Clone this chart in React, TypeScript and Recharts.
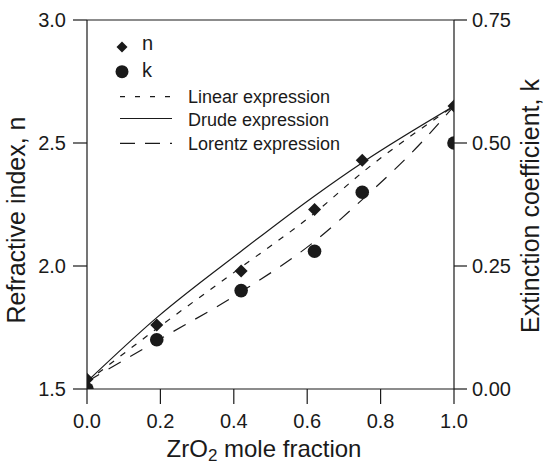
import React from "react";
import {
  ComposedChart,
  Line,
  Scatter,
  XAxis,
  YAxis,
  ReferenceLine,
  Label,
} from "recharts";

const xTicks = [0, 0.2, 0.4, 0.6, 0.8, 1.0];
const nTicks = [1.5, 2.0, 2.5, 3.0];
const kTicks = [0, 0.25, 0.5, 0.75];

const fractions = [0, 0.19, 0.42, 0.62, 0.75, 1.0];
const nValues = [1.54, 1.76, 1.98, 2.23, 2.43, 2.65];
const kValues = [0.0, 0.1, 0.2, 0.28, 0.4, 0.5];

const linearX = [0, 0.19, 0.42, 0.62, 0.75, 1.0];
const linearN = [1.53, 1.745, 1.995, 2.215, 2.38, 2.65];
const drudeX = [0, 0.19, 0.42, 0.62, 0.75, 1.0];
const drudeN = [1.53, 1.79, 2.06, 2.285, 2.42, 2.65];
const lorentzX = [0, 0.19, 0.42, 0.62, 0.75, 0.91, 1.0];
const lorentzN = [1.53, 1.695, 1.895, 2.1, 2.27, 2.5, 2.65];

const nData = fractions.map((x, i) => ({ x, n: nValues[i] }));
const kData = fractions.map((x, i) => ({ x, k: kValues[i] }));
const linearData = linearX.map((x, i) => ({ x, n: linearN[i] }));
const drudeData = drudeX.map((x, i) => ({ x, n: drudeN[i] }));
const lorentzData = lorentzX.map((x, i) => ({ x, n: lorentzN[i] }));

const FONT = "'Liberation Sans', Arial, Helvetica, sans-serif";
const INK = "#1a1a1a";

const Diamond = (props: any) => {
  const { cx, cy } = props;
  const r = 6.5;
  return (
    <path
      d={`M${cx},${cy - r}L${cx + r},${cy}L${cx},${cy + r}L${cx - r},${cy}Z`}
      fill={INK}
    />
  );
};

const Dot = (props: any) => {
  const { cx, cy } = props;
  return <circle cx={cx} cy={cy} r={6.8} fill={INK} />;
};

const LegendBox = () => (
  <svg
    width={260}
    height={140}
    style={{ position: "absolute", left: 100, top: 30, display: "block", pointerEvents: "none" }}
  >
    <g transform="translate(-100,-30)" fontFamily={FONT} fill={INK}>
      <path d="M122,41.5L127.5,47L122,52.5L116.5,47Z" fill={INK} />
      <text x={142} y={50} fontSize={20}>n</text>
      <circle cx={122} cy={71.7} r={6.5} fill={INK} />
      <text x={142} y={77} fontSize={20}>k</text>
      <line x1={120} y1={96.7} x2={172} y2={96.7} stroke={INK} strokeWidth={1.2} strokeDasharray="5 10" />
      <text x={188} y={103} fontSize={18}>Linear expression</text>
      <line x1={120} y1={118.5} x2={172} y2={118.5} stroke={INK} strokeWidth={1.2} />
      <text x={188} y={126} fontSize={18}>Drude expression</text>
      <line x1={120} y1={143.3} x2={172} y2={143.3} stroke={INK} strokeWidth={1.2} strokeDasharray="15 10" />
      <text x={188} y={149.5} fontSize={18}>Lorentz expression</text>
    </g>
  </svg>
);

const tickStyle = { fill: INK, fontSize: 20, fontFamily: FONT };

export default function App() {
  return (
    <div style={{ position: "absolute", left: 0, top: 0, width: 544, height: 466, background: "#fff" }}>
      <ComposedChart
        width={544}
        height={466}
        margin={{ top: 20, right: 0, bottom: 0, left: 0 }}
      >
        <XAxis
          dataKey="x"
          type="number"
          domain={[0, 1]}
          ticks={xTicks}
          tickFormatter={(v: number) => v.toFixed(1)}
          tick={tickStyle}
          tickSize={15}
          tickMargin={10}
          height={77}
          stroke={INK}
          strokeWidth={1.2}
          allowDataOverflow
        >
          <Label
            content={() => (
              <text x={264} y={457} textAnchor="middle" fontFamily={FONT} fontSize={24} fill={INK}>
                ZrO
                <tspan fontSize={17} dy={4}>2</tspan>
                <tspan dy={-4}> mole fraction</tspan>
              </text>
            )}
          />
        </XAxis>
        <YAxis
          yAxisId="left"
          orientation="left"
          type="number"
          domain={[1.5, 3.0]}
          ticks={nTicks}
          tickFormatter={(v: number) => v.toFixed(1)}
          tick={tickStyle}
          tickSize={14}
          tickMargin={7}
          width={87}
          stroke={INK}
          strokeWidth={1.2}
          allowDataOverflow
        >
          <Label
            content={() => (
              <text
                x={25}
                y={220}
                transform="rotate(-90, 25, 220)"
                textAnchor="middle"
                fontFamily={FONT}
                fontSize={25}
                fill={INK}
              >
                Refractive index, n
              </text>
            )}
          />
        </YAxis>
        <YAxis
          yAxisId="right"
          orientation="right"
          type="number"
          domain={[0, 0.75]}
          ticks={kTicks}
          tickFormatter={(v: number) => v.toFixed(2)}
          tick={tickStyle}
          tickSize={13}
          tickMargin={5}
          width={90}
          stroke={INK}
          strokeWidth={1.2}
          allowDataOverflow
        >
          <Label
            content={() => (
              <text
                x={539}
                y={206}
                transform="rotate(-90, 539, 206)"
                textAnchor="middle"
                fontFamily={FONT}
                fontSize={25}
                fill={INK}
              >
                Extinction coefficient, k
              </text>
            )}
          />
        </YAxis>
        <ReferenceLine yAxisId="left" y={3.0} stroke={INK} strokeWidth={1.2} />
        <Line
          yAxisId="left"
          data={linearData}
          dataKey="n"
          type="monotone"
          stroke={INK}
          strokeWidth={1.2}
          strokeDasharray="6 8"
          dot={false}
          activeDot={false}
          isAnimationActive={false}
        />
        <Line
          yAxisId="left"
          data={drudeData}
          dataKey="n"
          type="monotone"
          stroke={INK}
          strokeWidth={1.2}
          dot={false}
          activeDot={false}
          isAnimationActive={false}
        />
        <Line
          yAxisId="left"
          data={lorentzData}
          dataKey="n"
          type="monotone"
          stroke={INK}
          strokeWidth={1.2}
          strokeDasharray="14 11"
          dot={false}
          activeDot={false}
          isAnimationActive={false}
        />
        <Scatter
          yAxisId="left"
          data={nData}
          dataKey="n"
          shape={Diamond}
          isAnimationActive={false}
        />
        <Scatter
          yAxisId="right"
          data={kData}
          dataKey="k"
          shape={Dot}
          isAnimationActive={false}
        />
      </ComposedChart>
      <LegendBox />
    </div>
  );
}
